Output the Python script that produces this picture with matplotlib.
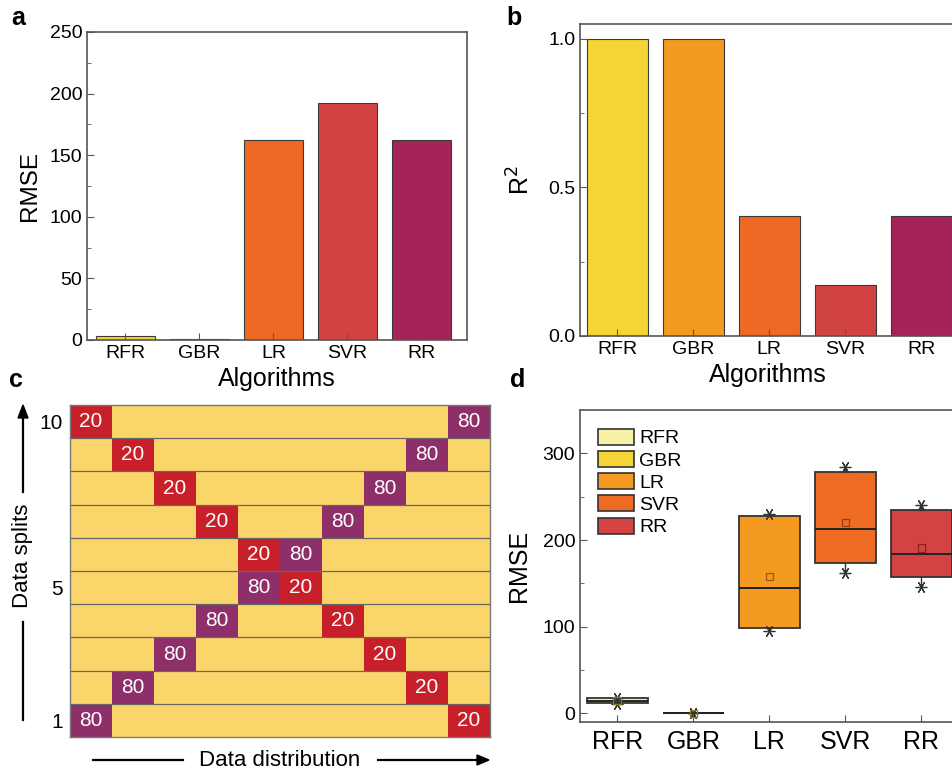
import matplotlib.pyplot as plt
from matplotlib.patches import Patch

plt.rcParams['font.family'] = ['Liberation Sans', 'DejaVu Sans']

# ---------------- data ----------------
algorithms = ['RFR', 'GBR', 'LR', 'SVR', 'RR']
rmse_values = [3.5, 0.5, 162, 192, 162]
r2_values = [1.0, 1.0, 0.405, 0.17, 0.405]

bar_colors = ['#F4D535', '#F59A20', '#EE6A24', '#D14343', '#A52458']

splits = list(range(1, 11))
pos_80 = [0, 1, 2, 3, 4, 5, 6, 7, 8, 9]
pos_20 = [9, 8, 7, 6, 5, 4, 3, 2, 1, 0]
n_cols = 10

box_q1 = [11.5, 0, 98, 173, 157]
box_q3 = [17.5, 0.6, 228, 278, 235]
box_med = [14.5, 0, 145, 213, 184]
box_mean = [15, 0, 158, 220, 191]
box_min = [11, 0, 95, 162, 146]
box_max = [18, 0.6, 230, 284, 240]
box_colors = ['#F8F1A6', '#F4D535', '#F59A20', '#EE6B24', '#D44343']
mean_colors = ['#8a7a20', '#8a7a20', '#9a5a10', '#9a4010', '#8a2020']

edge = '#3a3a3a'
spine_col = '#555555'

fig = plt.figure(figsize=(9.53, 7.69), dpi=100)


def style_axes(ax):
    for s in ax.spines.values():
        s.set_color(spine_col)
        s.set_linewidth(1.2)
    ax.tick_params(direction='in', which='both', color=spine_col, labelsize=14)
    ax.tick_params(which='major', length=5)
    ax.tick_params(which='minor', length=3)


# ---------------- panel a ----------------
ax_a = fig.add_axes([0.0913, 0.5579, 0.399, 0.4005])
x = range(len(algorithms))
ax_a.bar(x, rmse_values, width=0.8, color=bar_colors, edgecolor=edge, linewidth=0.8)
ax_a.set_xlim(-0.52, 4.62)
ax_a.set_ylim(0, 250)
ax_a.set_yticks([0, 50, 100, 150, 200, 250])
ax_a.set_yticks([25, 75, 125, 175, 225], minor=True)
ax_a.set_xticks(list(x))
ax_a.set_xticklabels(algorithms)
ax_a.set_ylabel('RMSE', fontsize=17.5, labelpad=6)
ax_a.set_xlabel('Algorithms', fontsize=18, labelpad=4)
style_axes(ax_a)

# ---------------- panel b ----------------
ax_b = fig.add_axes([0.6086, 0.5631, 0.395, 0.4057])
ax_b.bar(x, r2_values, width=0.8, color=bar_colors, edgecolor=edge, linewidth=0.8)
ax_b.set_xlim(-0.49, 4.46)
ax_b.set_ylim(0, 1.05)
ax_b.set_yticks([0.0, 0.5, 1.0])
ax_b.set_yticklabels(['0.0', '0.5', '1.0'])
ax_b.set_yticks([0.25, 0.75], minor=True)
ax_b.set_xticks(list(x))
ax_b.set_xticklabels(algorithms)
ax_b.set_ylabel('R$^2$', fontsize=18, labelpad=10)
ax_b.set_xlabel('Algorithms', fontsize=18, labelpad=4)
style_axes(ax_b)

# ---------------- panel c ----------------
ax_c = fig.add_axes([0.0735, 0.0416, 0.4407, 0.4317])
ax_c.set_facecolor('#FAD66A')
ax_c.set_xlim(-0.5, n_cols - 0.5)
ax_c.set_ylim(0.5, 10.5)
for s, c80, c20 in zip(splits, pos_80, pos_20):
    ax_c.bar(c80, 1, bottom=s - 0.5, width=1, color='#8E2F6A', linewidth=0)
    ax_c.bar(c20, 1, bottom=s - 0.5, width=1, color='#C8202A', linewidth=0)
    ax_c.text(c80, s, '80', color='white', ha='center', va='center', fontsize=15)
    ax_c.text(c20, s, '20', color='white', ha='center', va='center', fontsize=15)
for s in splits[:-1]:
    ax_c.axhline(s + 0.5, color='#666666', linewidth=0.9)
ax_c.set_xticks([])
ax_c.set_yticks([1, 5, 10])
ax_c.set_yticklabels(['1', '5', '10'])
ax_c.tick_params(axis='y', length=0, labelsize=15, pad=5)
for s in ax_c.spines.values():
    s.set_color('#777777')
    s.set_linewidth(1.0)

# axis arrows and labels for c
fig.text(23 / 953, 1 - 556 / 769, 'Data splits', rotation=90, ha='center', va='center', fontsize=16)
fig.add_artist(plt.Line2D([23 / 953, 23 / 953], [1 - 720 / 769, 1 - 622 / 769],
                          color='black', linewidth=1.6))
fig.add_artist(plt.Line2D([23 / 953, 23 / 953], [1 - 492 / 769, 1 - 418 / 769],
                          color='black', linewidth=1.6))
fig.patches.append(plt.Polygon([[18 / 953, 1 - 418 / 769], [28 / 953, 1 - 418 / 769],
                                [23 / 953, 1 - 405 / 769]], closed=True, color='black',
                               transform=fig.transFigure))
fig.text(280 / 953, 1 - 760 / 769, 'Data distribution', ha='center', va='center', fontsize=16)
fig.add_artist(plt.Line2D([93 / 953, 183 / 953], [1 - 760 / 769, 1 - 760 / 769],
                          color='black', linewidth=1.6))
fig.add_artist(plt.Line2D([378 / 953, 478 / 953], [1 - 760 / 769, 1 - 760 / 769],
                          color='black', linewidth=1.6))
fig.patches.append(plt.Polygon([[477 / 953, 1 - 755 / 769], [477 / 953, 1 - 765 / 769],
                                [489 / 953, 1 - 760 / 769]], closed=True, color='black',
                               transform=fig.transFigure))

# ---------------- panel d ----------------
ax_d = fig.add_axes([0.6086, 0.0611, 0.395, 0.4057])
stats = []
for i, name in enumerate(algorithms):
    stats.append(dict(label=name, med=box_med[i], q1=box_q1[i], q3=box_q3[i],
                      whislo=box_min[i], whishi=box_max[i], mean=box_mean[i], fliers=[]))
bp = ax_d.bxp(stats, positions=list(x), widths=0.8, patch_artist=True, showmeans=False,
              showcaps=False, showfliers=False,
              medianprops=dict(color='#222222', linewidth=1.4),
              boxprops=dict(edgecolor='#333333', linewidth=1.3),
              whiskerprops=dict(color='#333333', linewidth=1.0))
for patch, col in zip(bp['boxes'], box_colors):
    patch.set_facecolor(col)
ax_d.scatter(list(x), box_min, marker=(6, 2, 30), s=60, color='#333333', linewidths=0.9, zorder=4)
ax_d.scatter(list(x), box_max, marker=(6, 2, 30), s=60, color='#333333', linewidths=0.9, zorder=4)
ax_d.scatter(list(x), box_mean, marker='s', s=30, facecolors='none', edgecolors=mean_colors,
             linewidths=0.9, zorder=4)
ax_d.set_xlim(-0.49, 4.46)
ax_d.set_ylim(-10, 350)
ax_d.set_yticks([0, 100, 200, 300])
ax_d.set_yticks([50, 150, 250], minor=True)
ax_d.set_xticks(list(x))
ax_d.set_xticklabels(algorithms)
ax_d.set_ylabel('RMSE', fontsize=18, labelpad=8)
style_axes(ax_d)
ax_d.tick_params(axis='x', labelsize=18, pad=6)

handles = [Patch(facecolor=c, edgecolor='#333333', linewidth=1.2) for c in box_colors]
ax_d.legend(handles, algorithms, loc='upper left', bbox_to_anchor=(0.0, 1.0), frameon=False,
            fontsize=14, handlelength=1.85, handleheight=0.9, labelspacing=0.18,
            handletextpad=0.25, borderaxespad=0.55)

# ---------------- panel labels ----------------
for lbl, px, py in [('a', 18, 18), ('b', 514, 18), ('c', 16, 380), ('d', 518, 380)]:
    fig.text(px / 953, 1 - py / 769, lbl, fontsize=18, fontweight='bold', ha='center', va='center')

fig.savefig('out.png', dpi=100)
